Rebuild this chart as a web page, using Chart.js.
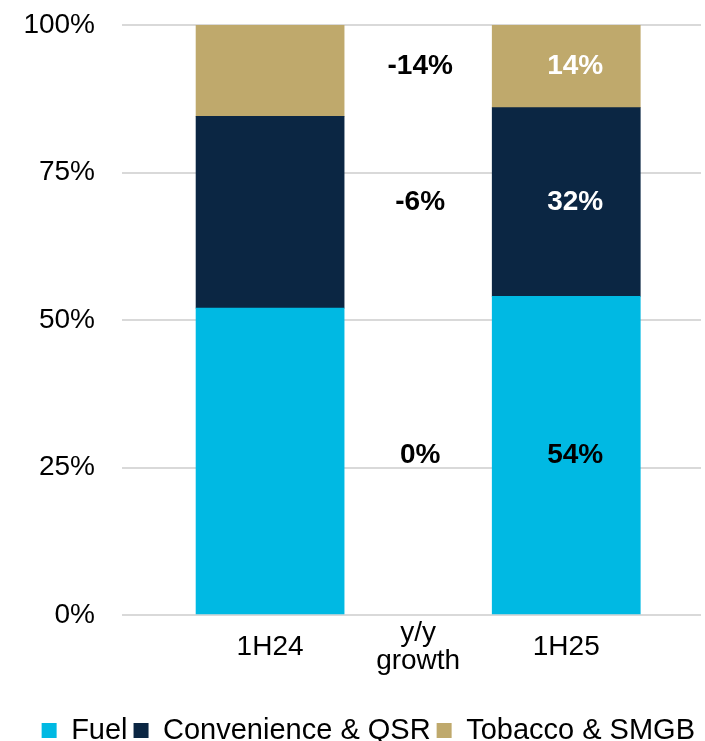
<!DOCTYPE html>
<html>
<head>
<meta charset="utf-8">
<title>Sales mix 1H24 vs 1H25</title>
<script src="https://cdn.jsdelivr.net/npm/chart.js@4/dist/chart.umd.min.js"></script>
<style>
  html, body { margin: 0; padding: 0; background: #fff; }
  #wrap { width: 705px; height: 741px; position: relative; }
</style>
</head>
<body>
<div id="wrap"><canvas id="mix-chart"></canvas></div>
<script>
// Sales mix by segment, share of total (%)
const periods = ['1H24', ['y/y', 'growth'], '1H25'];
const periodX = [1, 2, 3];          // x slot of each period; slot 2 holds the growth column
const fuel = [52, 54];
const convenience = [32.5, 32];
const tobacco = [15.5, 14];
const growth = ['0%', '-6%', '-14%']; // fuel, convenience, tobacco
const yTicks = [0, 25, 50, 75, 100];

const FONT = '"Liberation Sans", Arial, sans-serif';
const barX = [periodX[0], periodX[2]];

function points(values) {
  return values.map((v, i) => ({ x: barX[i], y: v }));
}

// labels inside the 1H25 bar plus the y/y growth column
const valueLabels = {
  id: 'valueLabels',
  afterDatasetsDraw(chart) {
    const ctx = chart.ctx;
    const xs = chart.scales.x;
    ctx.save();
    ctx.font = 'bold 28px ' + FONT;
    ctx.textAlign = 'center';
    ctx.textBaseline = 'middle';
    chart.data.datasets.forEach((ds, i) => {
      const bar = chart.getDatasetMeta(i).data[1];
      if (!bar) return;
      const cy = (bar.y + bar.base) / 2;
      ctx.fillStyle = ds.labelColor;
      ctx.fillText(Math.round(ds.data[1].y) + '%', bar.x + 9, cy);
      ctx.fillStyle = '#000';
      ctx.fillText(growth[i], xs.getPixelForValue(periodX[1]) + 2, cy);
    });
    ctx.restore();
  }
};

new Chart(document.getElementById('mix-chart'), {
  type: 'bar',
  data: {
    datasets: [
      { label: 'Fuel', data: points(fuel), backgroundColor: '#00B9E3', labelColor: '#000' },
      { label: 'Convenience & QSR', data: points(convenience), backgroundColor: '#0B2643', labelColor: '#fff' },
      { label: 'Tobacco & SMGB', data: points(tobacco), backgroundColor: '#BFA96C', labelColor: '#fff' }
    ]
  },
  options: {
    responsive: true,
    maintainAspectRatio: false,
    animation: false,
    categoryPercentage: 1.0,
    barPercentage: 1.0,
    layout: { padding: { left: 23, right: 4, top: 25, bottom: -14 } },
    plugins: {
      tooltip: { enabled: false },
      legend: {
        position: 'bottom',
        align: 'end',
        labels: {
          boxWidth: 15,
          boxHeight: 15,
          padding: 6,
          color: '#000',
          font: { family: FONT, size: 29 }
        }
      }
    },
    scales: {
      x: {
        type: 'linear',
        stacked: true,
        offset: false,
        min: 0,
        max: 3.91,
        grid: { display: false },
        border: { display: false },
        afterBuildTicks: (scale) => {
          scale.ticks = periodX.map(v => ({ value: v }));
        },
        afterFit: (scale) => {
          scale.height = 95;
        },
        ticks: {
          autoSkip: false,
          maxRotation: 0,
          padding: 10,
          crossAlign: 'center',
          color: '#000',
          font: { family: FONT, size: 28, lineHeight: 1.0 },
          callback: (v) => periods[periodX.indexOf(v)]
        }
      },
      y: {
        stacked: true,
        min: 0,
        max: 100,
        afterBuildTicks: (scale) => {
          scale.ticks = yTicks.map(v => ({ value: v }));
        },
        afterFit: (scale) => {
          scale.width = 99;
          scale.paddingTop = 0;
          scale.paddingBottom = 0;
        },
        grid: { color: '#D9D9D9', lineWidth: 2, drawTicks: false },
        border: { display: false },
        ticks: {
          padding: 27,
          color: '#000',
          font: { family: FONT, size: 28 },
          callback: (v) => v + '%'
        }
      }
    }
  },
  plugins: [valueLabels]
});
</script>
</body>
</html>
